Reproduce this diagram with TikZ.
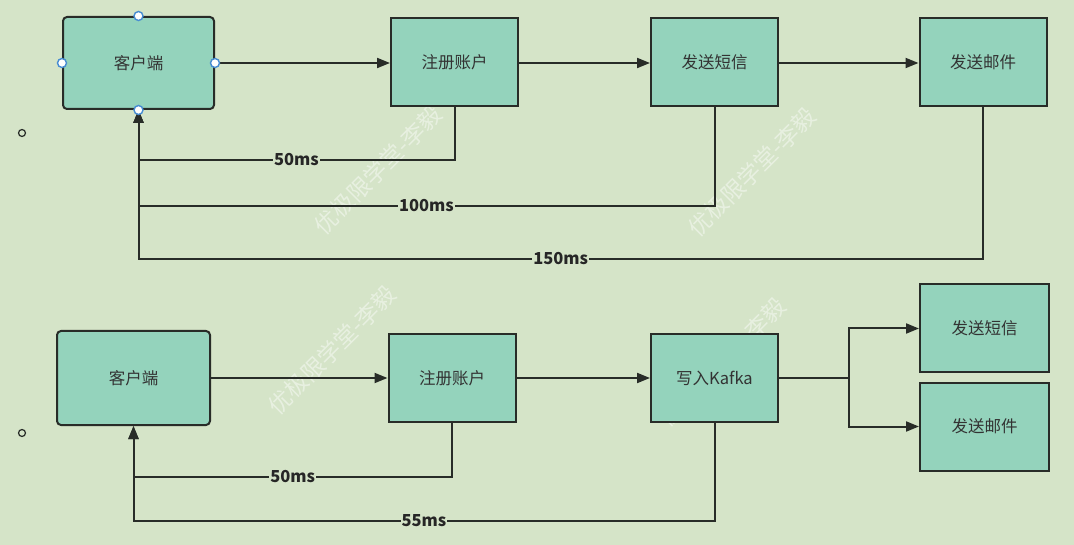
\documentclass[tikz,border=0pt]{standalone}
\usepackage{fontspec}
\setmainfont{Noto Sans CJK SC}
\usetikzlibrary{arrows.meta}
\definecolor{bg}{RGB}{213,228,200}
\definecolor{boxc}{RGB}{148,211,188}
\definecolor{ln}{RGB}{40,44,40}
\definecolor{hand}{RGB}{70,140,210}
\tikzset{
  box/.style={draw=ln, line width=2pt, fill=boxc, minimum width=127pt, minimum height=88pt, inner sep=0pt, text=black!80, font=\fontsize{16.5}{16.5}\selectfont},
  cbox/.style={box, rounded corners=4pt, minimum width=151pt, minimum height=92pt},
  conn/.style={draw=ln, line width=2pt, -{Triangle[length=13pt,width=10pt]}},
  lbl/.style={fill=bg, inner sep=1pt, font=\bfseries\fontsize{16.5}{16.5}\selectfont, text=black!85},
  hdl/.style={circle, draw=hand, fill=white, line width=1.4pt, minimum size=9pt, inner sep=0pt},
  bul/.style={circle, draw=ln, line width=1.2pt, minimum size=7pt, inner sep=0pt},
  wm/.style={text=white, opacity=0.45, rotate=45, font=\fontsize{23}{23}\selectfont}
}
\begin{document}
\begin{tikzpicture}[x=1pt,y=-1pt]
\fill[bg] (0,0) rectangle (1074,545);
\useasboundingbox (0,0) rectangle (1074,545);
\clip (0,0) rectangle (1074,545);
% watermarks
\node[wm] (w1) at (378,170) {优极限学堂-李毅};
\node[wm] (w2) at (752,172) {优极限学堂-李毅};
\node[wm] (w3) at (332,350) {优极限学堂-李毅};
\node[wm] (w4) at (722,362) {优极限学堂-李毅};
% bullets
\node[bul] (b1) at (22,133) {};
\node[bul] (b2) at (22,433) {};
% top row
\node[cbox] (c1) at (138.5,63) {客户端};
\node[box] (r1) at (454.5,62) {注册账户};
\node[box] (s1) at (714.5,62) {发送短信};
\node[box] (m1) at (983,62) {发送邮件};
\draw[conn] (c1.east) -- (r1.west |- c1.east);
\draw[conn] (r1.east |- c1.east) -- (s1.west |- c1.east);
\draw[conn] (s1.east |- c1.east) -- (m1.west |- c1.east);
\coordinate (t1) at (454.5,160);
\coordinate (t2) at (714.5,206);
\coordinate (t3) at (983,259);
\draw[conn] (r1.south) -- (t1) -- node[lbl]{50ms} (c1.south |- t1) -- (c1.south);
\draw[conn] (s1.south) -- (t2) -- node[lbl]{100ms} (c1.south |- t2) -- (c1.south);
\draw[conn] (m1.south) -- (t3) -- node[lbl]{150ms} (c1.south |- t3) -- (c1.south);
\node[hdl] (h1) at (c1.north) {};
\node[hdl] (h2) at (c1.south) {};
\node[hdl] (h3) at (c1.west) {};
\node[hdl] (h4) at (c1.east) {};
% bottom row
\node[cbox, minimum width=153pt, minimum height=94pt] (c2) at (133.5,378) {客户端};
\node[box] (r2) at (452,378) {注册账户};
\node[box] (k2) at (714.5,378) {写入Kafka};
\node[box, minimum width=129pt] (s2) at (984.5,328.5) {发送短信};
\node[box, minimum width=129pt] (m2) at (984.5,426.5) {发送邮件};
\draw[conn] (c2.east) -- (r2.west);
\draw[conn] (r2.east) -- (k2.west);
\coordinate (sp) at (849,378);
\draw[conn] (k2.east) -- (sp) |- (s2.west);
\draw[conn] (sp) |- (m2.west);
\coordinate (u1) at (452,477);
\coordinate (u2) at (714.5,521);
\draw[conn] (r2.south) -- (u1) -- node[lbl]{50ms} (c2.south |- u1) -- (c2.south);
\draw[conn] (k2.south) -- (u2) -- node[lbl]{55ms} (c2.south |- u2) -- (c2.south);
\end{tikzpicture}
\end{document}
